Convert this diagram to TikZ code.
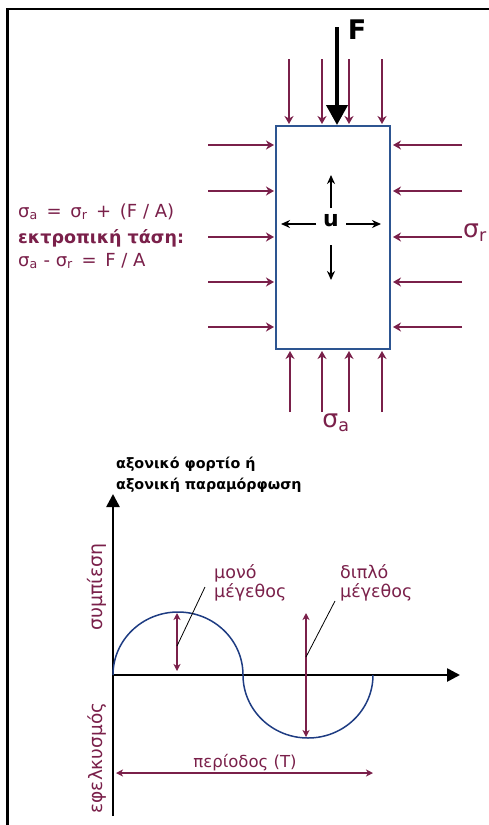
\documentclass[tikz,border=0pt]{standalone}
\usepackage{fontspec}
\setmainfont{DejaVu Sans}
\usetikzlibrary{arrows.meta}
\definecolor{maroon}{RGB}{122,32,74}
\definecolor{boxblue}{RGB}{45,85,145}
\definecolor{curveblue}{RGB}{30,60,130}
\tikzset{
  press/.style={draw=maroon, line width=1.3pt, -{Stealth[length=8pt,width=9pt,inset=2.5pt]}},
  uarrow/.style={draw=black, line width=2pt, -{Stealth[length=9pt,width=8pt]}},
  dbl/.style={draw=maroon, line width=1.2pt, {Stealth[length=7pt,width=7pt,inset=2pt]}-{Stealth[length=7pt,width=7pt,inset=2pt]}},
  axis/.style={draw=black, line width=2.6pt, -{Triangle[length=13pt,width=13pt]}},
  mtext/.style={text=maroon, inner sep=0pt},
  leader/.style={draw=black, line width=0.8pt}
}
\begin{document}
\begin{tikzpicture}[x=1pt,y=-1pt]
\useasboundingbox (0,0) rectangle (489,825);
% frame
\draw[line width=2.6pt] (7.5,826) -- (7.5,9) -- (490,9);

% top pressure arrows
\foreach \x in {289,322,349,382} \draw[press] (\x,59) -- (\x,124);
% left pressure arrows
\foreach \y in {145,191,237,282,327} \draw[press] (208,\y) -- (274,\y);
% right pressure arrows
\foreach \y in {145,191,237,282,327} \draw[press] (462,\y) -- (393,\y);
% bottom pressure arrows
\foreach \x in {290,322,349,382} \draw[press] (\x,412) -- (\x,351);

% specimen
\draw[boxblue, line width=1.6pt, fill=white] (276,126) rectangle (390,349);

% force F
\draw[line width=4pt, -{Triangle[length=20pt,width=21pt]}] (337,27) -- (337,125);
\node[font=\bfseries\fontsize{27}{30}\selectfont, inner sep=0pt] (F) at (357,30) {F};

% u with arrows
\node[font=\bfseries\fontsize{22}{24}\selectfont, inner sep=0pt] (u) at (331,221) {u};
\draw[uarrow] (331,208) -- (331,175);
\draw[uarrow] (331,245) -- (331,280);
\draw[uarrow] (316,224) -- (281,224);
\draw[uarrow] (346,224) -- (381,224);

% sigma labels
\node[mtext, anchor=west, font=\fontsize{25}{28}\selectfont] (sr) at (463,233) {σ\textsubscript{r}};
\node[mtext, anchor=north, font=\fontsize{25}{28}\selectfont] (sa) at (336,414) {σ\textsubscript{a}};

% equations
\node[mtext, anchor=base west, font=\fontsize{18}{20}\selectfont] (eq1) at (18,217) {σ\textsubscript{a}\, = \,σ\textsubscript{r}\, + \,(F / A)};
\node[mtext, anchor=base west, font=\bfseries\fontsize{17.5}{20}\selectfont] (eq2) at (18,243) {εκτροπική τάση:};
\node[mtext, anchor=base west, font=\fontsize{18}{20}\selectfont] (eq3) at (18,266) {σ\textsubscript{a} - σ\textsubscript{r}\, = \,F / A};

% graph axes
\coordinate (yb) at (113,816);
\coordinate (yt) at (113,494);
\coordinate (xl) at (113,675);
\coordinate (xr) at (460,675);
\draw[axis] (yb) -- (yt);
\draw[axis] (xl) -- (xr);

% graph title
\node[anchor=base west, font=\bfseries\fontsize{14.3}{16}\selectfont, inner sep=0pt] (t1) at (116,468) {αξονικό φορτίο ή};
\node[anchor=base west, font=\bfseries\fontsize{14.3}{16}\selectfont, inner sep=0pt] (t2) at (116,489) {αξονική παραμόρφωση};

% vertical labels
\node[mtext, rotate=90, font=\fontsize{19}{21}\selectfont] (comp) at (97,587) {συμπίεση};
\node[mtext, rotate=90, font=\fontsize{18.5}{21}\selectfont] (tens) at (97,758) {εφελκυσμός};

% wave
\draw[curveblue, line width=1.5pt] (113,675) arc[start angle=180, end angle=0, x radius=65pt, y radius=63pt]
  arc[start angle=180, end angle=360, x radius=65pt, y radius=63pt];

% magnitude arrows
\draw[dbl] (177,671) -- (177,613);
\draw[dbl] (306,737) -- (306,613);
\coordinate (l1a) at (177,646);
\coordinate (l1b) at (205,587);
\coordinate (l2a) at (306,657);
\coordinate (l2b) at (335,601);
\draw[leader] (l1a) -- (l1b);
\draw[leader] (l2a) -- (l2b);
\node[mtext, anchor=base west, font=\fontsize{17.5}{19}\selectfont] (m1) at (214,578) {μονό};
\node[mtext, anchor=base west, font=\fontsize{17.5}{19}\selectfont] (m1b) at (214,597) {μέγεθος};
\node[mtext, anchor=base west, font=\fontsize{17.5}{19}\selectfont] (m2) at (340,578) {διπλό};
\node[mtext, anchor=base west, font=\fontsize{17.5}{19}\selectfont] (m2b) at (340,597) {μέγεθος};

% period
\coordinate (pl) at (116,773);
\coordinate (pr) at (373,773);
\draw[dbl] (pl) -- (pr);
\node[mtext, anchor=base, font=\fontsize{16.5}{18}\selectfont] (per) at (245,767) {περίοδος (T)};
\end{tikzpicture}
\end{document}
